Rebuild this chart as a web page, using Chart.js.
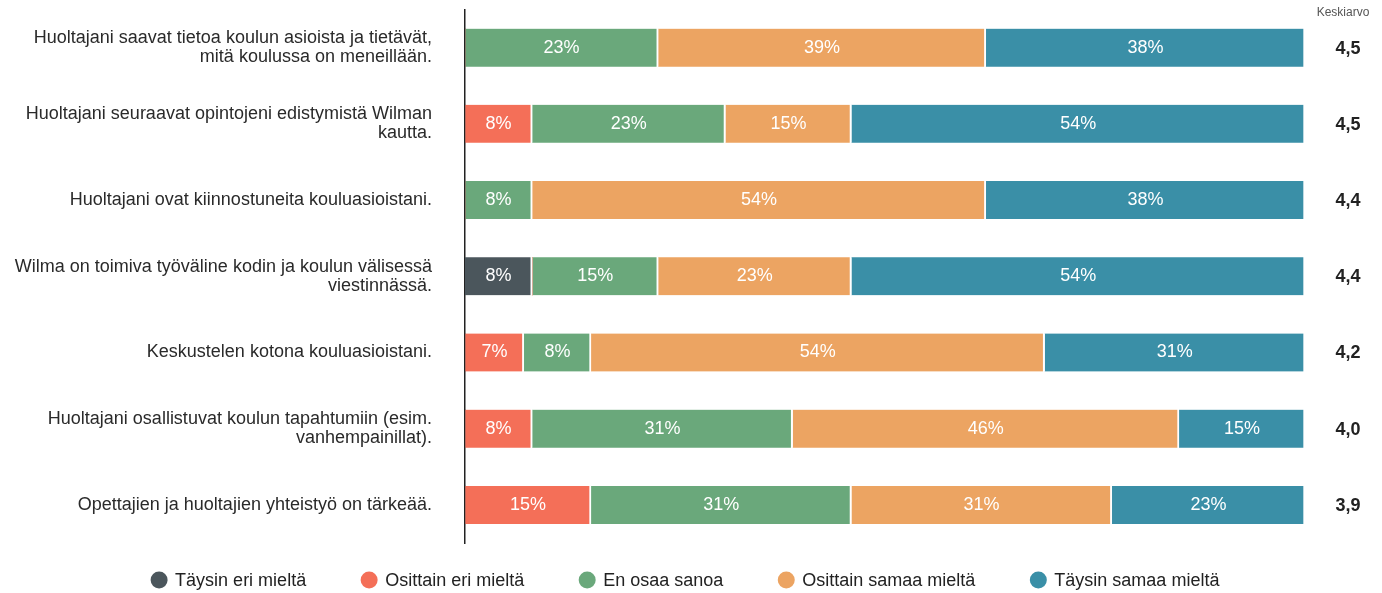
<!DOCTYPE html>
<html>
<head>
<meta charset="utf-8">
<script src="https://cdn.jsdelivr.net/npm/chart.js@4"></script>
<style>
  html, body { margin: 0; padding: 0; background: #fff; }
  #wrap { width: 1382px; height: 593px; }
</style>
</head>
<body>
<div id="wrap"><canvas id="myChart"></canvas></div>
<script>
const statements = [
  ['Huoltajani saavat tietoa koulun asioista ja tietävät,', 'mitä koulussa on meneillään.'],
  ['Huoltajani seuraavat opintojeni edistymistä Wilman', 'kautta.'],
  'Huoltajani ovat kiinnostuneita kouluasioistani.',
  ['Wilma on toimiva työväline kodin ja koulun välisessä', 'viestinnässä.'],
  'Keskustelen kotona kouluasioistani.',
  ['Huoltajani osallistuvat koulun tapahtumiin (esim.', 'vanhempainillat).'],
  'Opettajien ja huoltajien yhteistyö on tärkeää.',
];

const seriesNames = ['Täysin eri mieltä', 'Osittain eri mieltä', 'En osaa sanoa', 'Osittain samaa mieltä', 'Täysin samaa mieltä'];
const seriesColors = ['#4b565c', '#f46f58', '#6aa87b', '#eca462', '#3a8fa7'];

const taysinEri = [0, 0, 0, 8, 0, 0, 0];
const osittainEri = [0, 8, 0, 0, 7, 8, 15];
const enOsaa = [23, 23, 8, 15, 8, 31, 31];
const osittainSamaa = [39, 15, 54, 23, 54, 46, 31];
const taysinSamaa = [38, 54, 38, 54, 31, 15, 23];

const averages = ['4,5', '4,5', '4,4', '4,4', '4,2', '4,0', '3,9'];
const averageTitle = 'Keskiarvo';

const seriesValues = [taysinEri, osittainEri, enOsaa, osittainSamaa, taysinSamaa];

const FONT = '"Liberation Sans", Arial, sans-serif';

// percentage labels inside the segments, averages on the right, legend at the bottom
const extrasPlugin = {
  id: 'extras',
  afterDatasetsDraw(chart) {
    const { ctx } = chart;
    ctx.save();
    ctx.font = '18px ' + FONT;
    ctx.fillStyle = '#ffffff';
    ctx.textAlign = 'center';
    ctx.textBaseline = 'middle';
    chart.data.datasets.forEach((ds, i) => {
      const meta = chart.getDatasetMeta(i);
      meta.data.forEach((bar, j) => {
        const v = ds.data[j];
        if (!v) return;
        const cx = (bar.x + bar.base) / 2;
        ctx.fillText(v + '%', cx, bar.y);
      });
    });
    ctx.restore();
  },
  afterDraw(chart) {
    const { ctx } = chart;
    const yScale = chart.scales.y;
    ctx.save();

    // averages column
    ctx.textAlign = 'center';
    ctx.textBaseline = 'middle';
    ctx.fillStyle = '#555';
    ctx.font = '12px ' + FONT;
    ctx.fillText(averageTitle, 1343, 13);
    ctx.fillStyle = '#222';
    ctx.font = 'bold 18px ' + FONT;
    averages.forEach((a, i) => {
      ctx.fillText(a, 1348, yScale.getPixelForValue(i) + 1);
    });

    // legend
    ctx.font = '18px ' + FONT;
    ctx.textAlign = 'left';
    const r = 8.5;
    const textOff = 16;
    const gap = 63;
    const widths = seriesNames.map((n) => ctx.measureText(n).width);
    let total = r;
    widths.forEach((w, i) => { total += textOff + w + (i < widths.length - 1 ? gap : 0); });
    let cx = (chart.width - total) / 2 + r - 6;
    const ly = 580;
    seriesNames.forEach((n, i) => {
      ctx.beginPath();
      ctx.fillStyle = seriesColors[i];
      ctx.arc(cx, ly, r, 0, Math.PI * 2);
      ctx.fill();
      ctx.fillStyle = '#222';
      ctx.fillText(n, cx + textOff, ly + 1);
      cx += textOff + widths[i] + gap;
    });
    ctx.restore();
  },
};

new Chart(document.getElementById('myChart'), {
  type: 'bar',
  data: {
    labels: statements,
    datasets: seriesNames.map((name, i) => ({
      label: name,
      data: seriesValues[i],
      backgroundColor: seriesColors[i],
      borderColor: '#ffffff',
      borderWidth: { left: 0, top: 0, bottom: 0, right: 2 },
      borderSkipped: false,
      barThickness: 38,
    })),
  },
  options: {
    indexAxis: 'y',
    responsive: true,
    maintainAspectRatio: false,
    animation: false,
    layout: { padding: { left: 0, right: 77, top: 8, bottom: 50 } },
    plugins: {
      legend: { display: false },
      tooltip: { enabled: false },
    },
    scales: {
      x: {
        stacked: true,
        min: 0,
        max: 100,
        display: false,
      },
      y: {
        stacked: true,
        grid: { display: false, drawTicks: true, tickLength: 33 },
        border: { display: true, color: '#222', width: 1.5 },
        ticks: {
          padding: 0,
          color: '#2a2a2a',
          font: { family: FONT, size: 18, lineHeight: 1.06 },
        },
        afterFit(scale) { scale.width = 465; },
      },
    },
  },
  plugins: [extrasPlugin],
});
</script>
</body>
</html>
